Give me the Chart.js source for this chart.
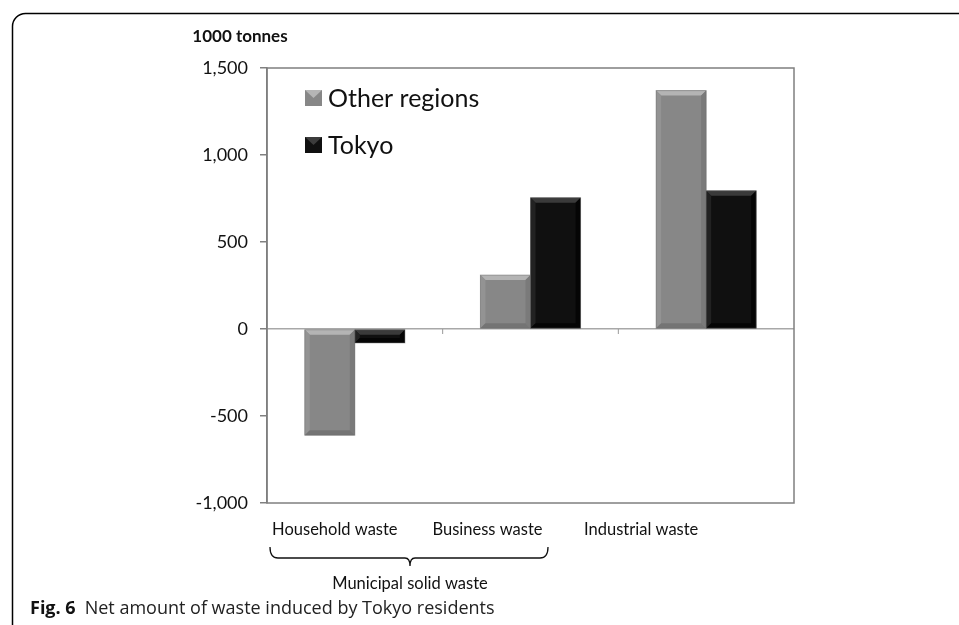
<!DOCTYPE html>
<html>
<head>
<meta charset="utf-8">
<script src="https://cdn.jsdelivr.net/npm/chart.js@4"></script>
<style>
  html, body { margin: 0; padding: 0; background: #fff; }
  #wrap { position: relative; width: 959px; height: 625px; }
</style>
</head>
<body>
<div id="wrap"><canvas id="waste-canvas" width="959" height="625"></canvas></div>
<script>
// data (1000 tonnes)
const categories = ['Household waste', 'Business waste', 'Industrial waste'];
const otherRegions = [-610, 310, 1370];
const tokyo = [-80, 755, 795];
const yTicks = [-1000, -500, 0, 500, 1000, 1500];
const seriesNames = ['Other regions', 'Tokyo'];

const FONT = 'Lato, "Open Sans", sans-serif';
const GRAY = '#878787';
const BLACK = '#101010';

// bevelled look of the excel bars
const bevelPlugin = {
    id: 'bevel',
    afterDatasetsDraw(chart) {
        let ctx = chart.ctx;
        chart.data.datasets.forEach(function(ds, di) {
            let meta = chart.getDatasetMeta(di);
            let shades = di === 0
                ? {top: '#b4b4b4', left: '#939393', right: '#7a7a7a', bottom: '#747474'}
                : {top: '#3a3a3a', left: '#222222', right: '#050505', bottom: '#050505'};
            meta.data.forEach(function(bar) {
                let p = bar.getProps(['x', 'y', 'base', 'width'], true);
                let l = p.x - p.width / 2, r = p.x + p.width / 2;
                let t = Math.min(p.y, p.base), b = Math.max(p.y, p.base);
                let s = Math.min(5, (b - t) / 2);
                ctx.save();
                ctx.fillStyle = shades.top;
                ctx.beginPath();
                ctx.moveTo(l, t); ctx.lineTo(r, t); ctx.lineTo(r - s, t + s); ctx.lineTo(l + s, t + s);
                ctx.closePath(); ctx.fill();
                ctx.fillStyle = shades.left;
                ctx.beginPath();
                ctx.moveTo(l, t); ctx.lineTo(l + s, t + s); ctx.lineTo(l + s, b - s); ctx.lineTo(l, b);
                ctx.closePath(); ctx.fill();
                ctx.fillStyle = shades.right;
                ctx.beginPath();
                ctx.moveTo(r, t); ctx.lineTo(r - s, t + s); ctx.lineTo(r - s, b - s); ctx.lineTo(r, b);
                ctx.closePath(); ctx.fill();
                ctx.fillStyle = shades.bottom;
                ctx.beginPath();
                ctx.moveTo(l, b); ctx.lineTo(l + s, b - s); ctx.lineTo(r - s, b - s); ctx.lineTo(r, b);
                ctx.closePath(); ctx.fill();
                ctx.strokeStyle = 'rgba(110,110,110,0.5)';
                ctx.lineWidth = 1;
                ctx.strokeRect(l, t, r - l, b - t);
                ctx.restore();
            });
        });
    }
};

// frame, legend, zero-line ticks, brace, titles and caption
const decorPlugin = {
    id: 'decor',
    afterDraw(chart) {
        let ctx = chart.ctx;
        let a = chart.chartArea;
        let xs = chart.scales.x, ys = chart.scales.y;
        ctx.save();

        // plot frame
        ctx.strokeStyle = '#7f7f7f';
        ctx.lineWidth = 1.5;
        ctx.strokeRect(a.left, a.top, a.right - a.left, a.bottom - a.top);

        // small ticks on the zero line between categories
        let y0 = ys.getPixelForValue(0);
        ctx.strokeStyle = '#9a9a9a';
        ctx.lineWidth = 1;
        for (let i = 0; i < categories.length - 1; i++) {
            let bx = (xs.getPixelForValue(i) + xs.getPixelForValue(i + 1)) / 2;
            ctx.beginPath(); ctx.moveTo(bx, y0); ctx.lineTo(bx, y0 + 5); ctx.stroke();
        }

        // legend inside plot
        ctx.font = '25px ' + FONT;
        ctx.textBaseline = 'middle';
        ctx.textAlign = 'left';
        chart.data.datasets.forEach(function(ds, i) {
            let lx = a.left + 38, ly = a.top + 30 + i * 47;
            ctx.fillStyle = ds.backgroundColor;
            ctx.fillRect(lx, ly - 8, 17, 16);
            ctx.fillStyle = i === 0 ? '#b5b5b5' : '#3c3c3c';
            ctx.beginPath(); ctx.moveTo(lx, ly - 8); ctx.lineTo(lx + 17, ly - 8); ctx.lineTo(lx + 8.5, ly); ctx.closePath(); ctx.fill();
            ctx.fillStyle = '#111';
            ctx.fillText(ds.label, lx + 23, ly + 1);
        });

        // y unit title
        ctx.font = 'bold 17px ' + FONT;
        ctx.textAlign = 'center';
        ctx.fillStyle = '#111';
        ctx.fillText('1000 tonnes', 240, 37);

        // category labels (placed like the original text boxes)
        let labelShift = [-20, -43, -65];
        ctx.font = '16.5px ' + FONT;
        categories.forEach(function(c, i) {
            ctx.fillText(c, xs.getPixelForValue(i) + labelShift[i], 530);
        });

        // brace under the municipal categories
        let bl = 270, br = 548, bm = 410;
        ctx.strokeStyle = '#111';
        ctx.lineWidth = 1.3;
        ctx.beginPath();
        ctx.moveTo(bl, 547);
        ctx.quadraticCurveTo(bl, 558, bl + 8, 558);
        ctx.lineTo(bm - 5, 558);
        ctx.quadraticCurveTo(bm, 558, bm, 566);
        ctx.quadraticCurveTo(bm, 558, bm + 5, 558);
        ctx.lineTo(br - 8, 558);
        ctx.quadraticCurveTo(br, 558, br, 547);
        ctx.stroke();
        ctx.fillText('Municipal solid waste', bm, 584);

        // caption
        ctx.textAlign = 'left';
        ctx.font = 'bold 18px "Open Sans", sans-serif';
        ctx.fillText('Fig. 6', 30, 609);
        let w = ctx.measureText('Fig. 6').width;
        ctx.font = '18px "Open Sans", sans-serif';
        ctx.fillStyle = '#222';
        ctx.fillText('Net amount of waste induced by Tokyo residents', 30 + w + 9, 609);

        // outer rounded border
        ctx.strokeStyle = '#000';
        ctx.lineWidth = 1.5;
        ctx.beginPath();
        ctx.moveTo(12.5, 640);
        ctx.lineTo(12.5, 27);
        ctx.arcTo(12.5, 13.5, 26, 13.5, 13);
        ctx.lineTo(970, 13.5);
        ctx.stroke();
        ctx.restore();
    }
};

function waste_chart(){
    let ctx = document.getElementById('waste-canvas').getContext('2d');
    let data = {
        labels: categories,
        datasets: [{
            label: seriesNames[0],
            data: otherRegions,
            backgroundColor: GRAY,
            borderWidth: 0
        }, {
            label: seriesNames[1],
            data: tokyo,
            backgroundColor: BLACK,
            borderWidth: 0
        }]
    };
    new Chart(ctx, {
        type: 'bar',
        data: data,
        plugins: [bevelPlugin, decorPlugin],
        options: {
            responsive: false,
            animation: false,
            devicePixelRatio: 1,
            layout: { padding: { left: 0, top: 68, right: 165, bottom: 0 } },
            plugins: { legend: { display: false }, tooltip: { enabled: false } },
            datasets: { bar: { categoryPercentage: 0.57, barPercentage: 1.0 } },
            scales: {
                x: {
                    grid: { display: false },
                    border: { display: false },
                    ticks: { display: false },
                    afterFit: function(scale) { scale.height = 122; }
                },
                y: {
                    min: -1000,
                    max: 1500,
                    afterBuildTicks: function(scale) {
                        scale.ticks = yTicks.map(function(v) { return { value: v }; });
                    },
                    grid: {
                        drawOnChartArea: true,
                        drawTicks: true,
                        tickLength: 7,
                        tickColor: '#808080',
                        color: function(c) { return c.tick && c.tick.value === 0 ? '#a8a8a8' : 'rgba(0,0,0,0)'; },
                        lineWidth: 1.5
                    },
                    border: { display: true, color: '#7f7f7f', width: 1.5 },
                    ticks: {
                        padding: 12,
                        color: '#111',
                        font: { family: FONT, size: 18 },
                        callback: function(v) { return v.toLocaleString('en-US'); }
                    },
                    afterFit: function(scale) { scale.width = 267; }
                }
            }
        }
    });
}
waste_chart();
</script>
</body>
</html>
